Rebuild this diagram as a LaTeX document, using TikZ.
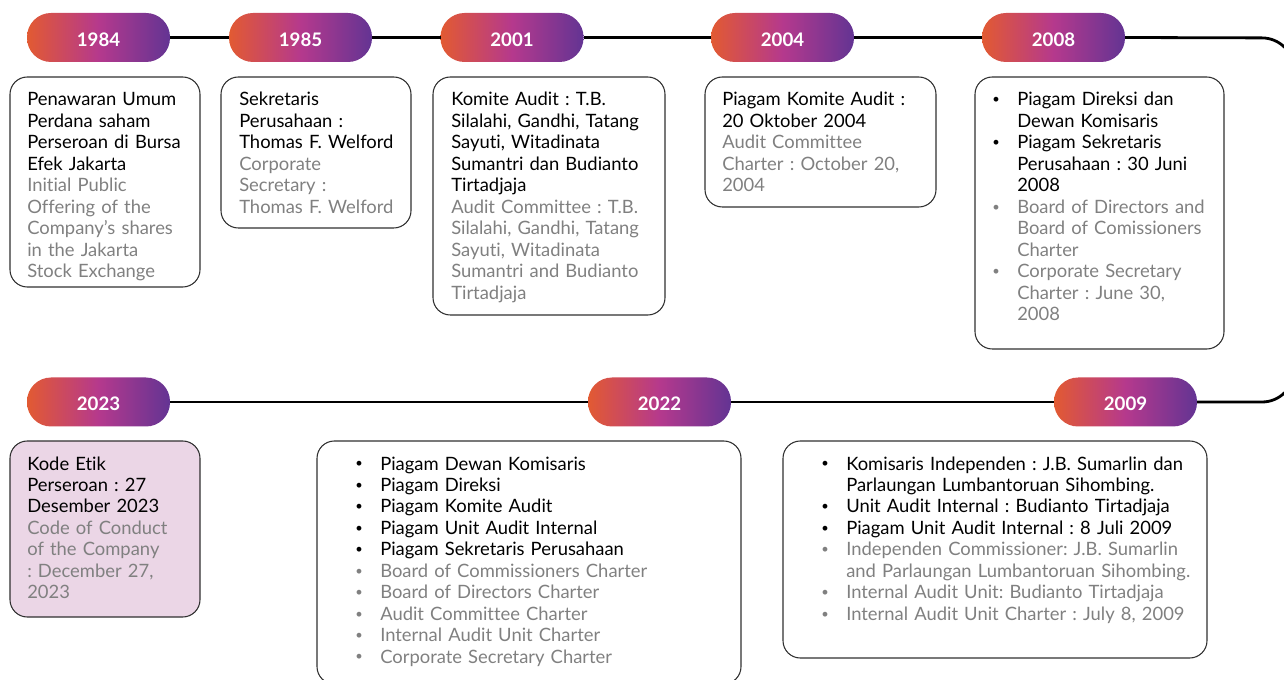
\documentclass[tikz,border=0pt]{standalone}
\usepackage{fontspec}
\setmainfont{Lato}[Ligatures=NoCommon]
\usetikzlibrary{positioning,fit,calc}
\definecolor{pillorange}{HTML}{E25A32}
\definecolor{pillmagenta}{HTML}{B5398D}
\definecolor{pillpurple}{HTML}{633493}
\definecolor{txtgray}{HTML}{808080}
\definecolor{cardpink}{HTML}{EBD6E6}
\definecolor{cardline}{HTML}{303030}
\frenchspacing
% bullet item: hanging paragraph
\newcommand{\itm}[1]{\noindent\hangindent=18.75pt\hangafter=1%
    \makebox[18.75pt][l]{\raisebox{0.12em}{\scalebox{0.7}{\textbullet}}}#1\par}

\begin{document}
\begin{tikzpicture}[x=0.75pt, y=-0.75pt,
    pill/.style={rounded corners=18pt, minimum width=107.25pt, minimum height=36.75pt,
        inner sep=0, outer sep=0, text height=13.4pt, text depth=0pt,
        left color=pillorange, right color=pillpurple, middle color=pillmagenta,
        text=white, font=\fontsize{14}{15}\selectfont\bfseries},
    card/.style={draw=cardline, line width=0.8pt, rounded corners=13pt, inner sep=0, outer sep=0},
    txt/.style={anchor=base west, inner sep=0, text width=420pt, align=left,
        font=\fontsize{13.8}{16.1}\selectfont},
    timeline/.style={line width=2.1pt, black}]
    \clip (0,0) rectangle (1284,680);

    % year pills, top row
    \node[pill] (p1984) at (98.5,37.5) {1984};
    \node[pill] (p1985) at (300.5,37.5) {1985};
    \node[pill] (p2001) at (512,37.5) {2001};
    \node[pill] (p2004) at (782.5,37.5) {2004};
    \node[pill] (p2008) at (1053.5,37.5) {2008};
    % year pills, bottom row
    \node[pill] (p2023) at (98.5,402) {2023};
    \node[pill] (p2022) at (659.5,402) {2022};
    \node[pill] (p2009) at (1125.5,402) {2009};

    % timeline
    \coordinate (bendtop) at (1294,38);
    \coordinate (bendbot) at (1294,402);
    \draw[timeline] (p1984.east) -- (p1985.west) (p1985.east) -- (p2001.west)
        (p2001.east) -- (p2004.west) (p2004.east) -- (p2008.west);
    \draw[timeline, rounded corners=24pt] (p2008.east) -- (bendtop) -- (bendbot) -- (p2009.east);
    \draw[timeline] (p2009.west) -- (p2022.east) (p2022.west) -- (p2023.east);

    % cards
    \node[card, fit={(10,77) (200,287)}] (c1984) {};
    \node[card, fit={(221,77) (411,228)}] (c1985) {};
    \node[card, fit={(433,77) (665,315)}] (c2001) {};
    \node[card, fit={(705,77) (936,207)}] (c2004) {};
    \node[card, fit={(975,77) (1224,349)}] (c2008) {};
    \node[card, fill=cardpink, fit={(10,441) (200,617)}] (c2023) {};
    \node[card, fit={(317,441) (741,684)}] (c2022) {};
    \node[card, fit={(783,441) (1207,658)}] (c2009) {};

    % card texts
    \node[txt] (t1984) at ([shift={(17,29)}]c1984.north west) {Penawaran Umum\\Perdana saham\\Perseroan di Bursa\\Efek Jakarta\\
        \color{txtgray}Initial Public\\Offering of the\\Company’s shares\\in the Jakarta\\Stock Exchange};
    \node[txt] (t1985) at ([shift={(18,29)}]c1985.north west) {Sekretaris\\Perusahaan :\\Thomas F. Welford\\
        \color{txtgray}Corporate\\Secretary :\\Thomas F. Welford};
    \node[txt] (t2001) at ([shift={(18,29)}]c2001.north west) {Komite Audit : T.B.\\Silalahi, Gandhi, Tatang\\Sayuti, Witadinata\\Sumantri dan Budianto\\Tirtadjaja\\
        \color{txtgray}Audit Committee : T.B.\\Silalahi, Gandhi, Tatang\\Sayuti, Witadinata\\Sumantri and Budianto\\Tirtadjaja};
    \node[txt] (t2004) at ([shift={(17,29)}]c2004.north west) {Piagam Komite Audit :\\20 Oktober 2004\\
        \color{txtgray}Audit Committee\\Charter : October 20,\\2004};
    \node[txt] (t2008) at ([shift={(17,29)}]c2008.north west) {%
        \itm{Piagam Direksi dan\newline Dewan Komisaris}
        \itm{Piagam Sekretaris\newline Perusahaan : 30 Juni\newline 2008}
        \color{txtgray}%
        \itm{Board of Directors and\newline Board of Comissioners\newline Charter}
        \itm{Corporate Secretary\newline Charter : June 30,\newline 2008}};
    \node[txt] (t2023) at ([shift={(17,29)}]c2023.north west) {Kode Etik\\Perseroan : 27\\Desember 2023\\
        \color{txtgray}Code of Conduct\\of the Company\\: December 27,\\2023};
    \node[txt] (t2022) at ([shift={(38,29)}]c2022.north west) {%
        \itm{Piagam Dewan Komisaris}
        \itm{Piagam Direksi}
        \itm{Piagam Komite Audit}
        \itm{Piagam Unit Audit Internal}
        \itm{Piagam Sekretaris Perusahaan}
        \color{txtgray}%
        \itm{Board of Commissioners Charter}
        \itm{Board of Directors Charter}
        \itm{Audit Committee Charter}
        \itm{Internal Audit Unit Charter}
        \itm{Corporate Secretary Charter}};
    \node[txt] (t2009) at ([shift={(38,29)}]c2009.north west) {%
        \itm{Komisaris Independen : J.B. Sumarlin dan\newline Parlaungan Lumbantoruan Sihombing.}
        \itm{Unit Audit Internal : Budianto Tirtadjaja}
        \itm{Piagam Unit Audit Internal : 8 Juli 2009}
        \color{txtgray}%
        \itm{Independen Commissioner: J.B. Sumarlin\newline and Parlaungan Lumbantoruan Sihombing.}
        \itm{Internal Audit Unit: Budianto Tirtadjaja}
        \itm{Internal Audit Unit Charter : July 8, 2009}};
\end{tikzpicture}
\end{document}
